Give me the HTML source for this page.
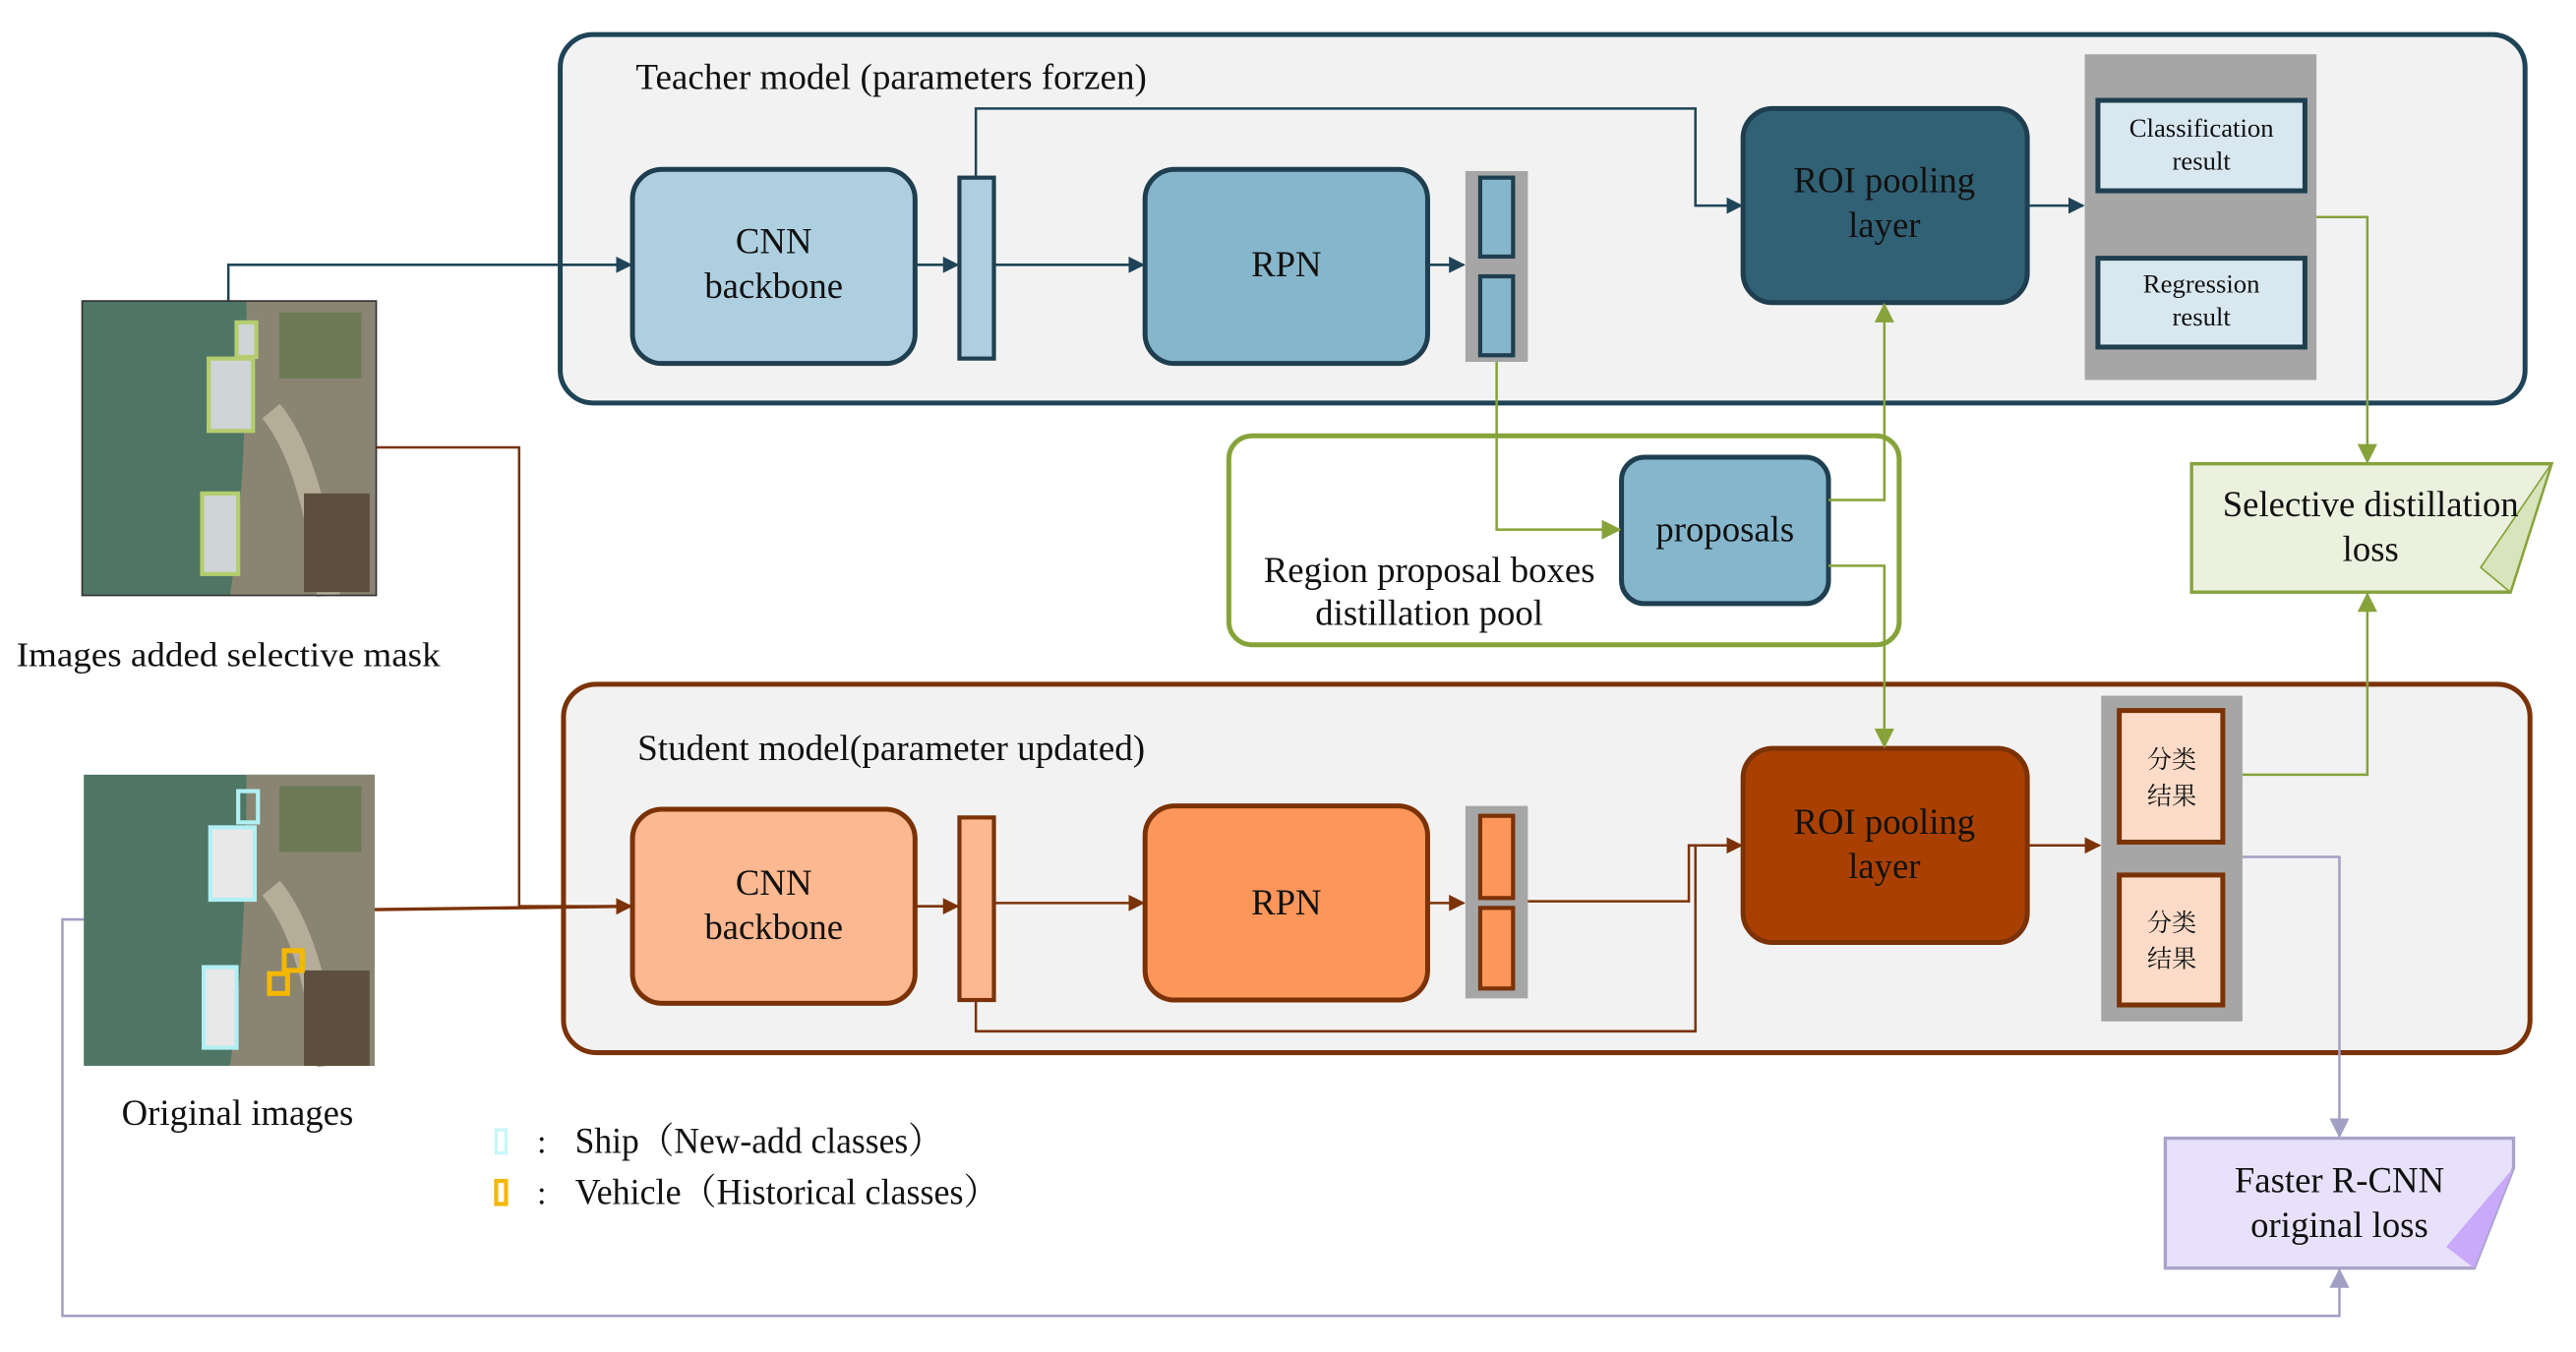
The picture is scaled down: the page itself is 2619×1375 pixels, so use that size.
<!DOCTYPE html>
<html><head><meta charset="utf-8"><style>
html,body{margin:0;padding:0;background:#fff;}
svg{display:block;}
text{font-family:"Liberation Serif","Noto Serif CJK SC",serif;fill:#111;}
</style></head><body>
<svg width="2619" height="1375" viewBox="0 0 1568 822" preserveAspectRatio="none" xmlns="http://www.w3.org/2000/svg">
<defs>
<marker id="at" markerWidth="10" markerHeight="10" refX="9" refY="5" orient="auto" markerUnits="userSpaceOnUse"><path d="M0,0 L10,5 L0,10 z" fill="#1f4457"/></marker>
<marker id="ab" markerWidth="10" markerHeight="10" refX="9" refY="5" orient="auto" markerUnits="userSpaceOnUse"><path d="M0,0 L10,5 L0,10 z" fill="#7b3206"/></marker>
<marker id="ag" markerWidth="12" markerHeight="12" refX="11" refY="6" orient="auto" markerUnits="userSpaceOnUse"><path d="M0,0 L12,6 L0,12 z" fill="#86a33a"/></marker>
<marker id="al" markerWidth="12" markerHeight="12" refX="11" refY="6" orient="auto" markerUnits="userSpaceOnUse"><path d="M0,0 L12,6 L0,12 z" fill="#a29fc4"/></marker>
</defs>

<!-- Teacher -->
<rect x="341" y="21" width="1196" height="224" rx="20" fill="#f2f2f2" stroke="#1f4457" stroke-width="3"/>
<text x="387" y="54" font-size="22" textLength="311" lengthAdjust="spacingAndGlyphs">Teacher model (parameters forzen)</text>
<rect x="385" y="103" width="172" height="118" rx="18" fill="#aecfdf" stroke="#1f3f50" stroke-width="3"/>
<text x="471" y="154" font-size="22" text-anchor="middle">CNN</text>
<text x="471" y="181" font-size="22" text-anchor="middle">backbone</text>
<rect x="584" y="108" width="21" height="110" fill="#aecfdf" stroke="#1f3f50" stroke-width="2.5"/>
<rect x="697" y="103" width="172" height="118" rx="18" fill="#86b6cc" stroke="#1f3f50" stroke-width="3"/>
<text x="783" y="168" font-size="22" text-anchor="middle">RPN</text>
<rect x="892" y="104" width="38" height="116" fill="#a6a6a6"/>
<rect x="901" y="108" width="20" height="48" fill="#86b6cc" stroke="#1f3f50" stroke-width="2.5"/>
<rect x="901" y="168" width="20" height="48" fill="#86b6cc" stroke="#1f3f50" stroke-width="2.5"/>
<rect x="1061" y="66" width="173" height="118" rx="18" fill="#316175" stroke="#1f3f50" stroke-width="3"/>
<text x="1147" y="117" font-size="22" text-anchor="middle">ROI pooling</text>
<text x="1147" y="144" font-size="22" text-anchor="middle">layer</text>
<rect x="1269" y="33" width="141" height="198" fill="#a6a6a6"/>
<rect x="1277" y="61" width="126" height="55" fill="#d9e8f0" stroke="#1f3f50" stroke-width="3"/>
<text x="1340" y="83" font-size="16" text-anchor="middle">Classification</text>
<text x="1340" y="103" font-size="16" text-anchor="middle">result</text>
<rect x="1277" y="157" width="126" height="54" fill="#d9e8f0" stroke="#1f3f50" stroke-width="3"/>
<text x="1340" y="178" font-size="16" text-anchor="middle">Regression</text>
<text x="1340" y="198" font-size="16" text-anchor="middle">result</text>
<g stroke="#1f4457" stroke-width="1.5" fill="none">
<path d="M139,183 V161 H384" marker-end="url(#at)"/>
<path d="M557,161 H583" marker-end="url(#at)"/>
<path d="M605,161 H696" marker-end="url(#at)"/>
<path d="M869,161 H891" marker-end="url(#at)"/>
<path d="M594,108 V66 H1032 V125 H1060" marker-end="url(#at)"/>
<path d="M1234,125 H1268" marker-end="url(#at)"/>
</g>

<!-- Pool -->
<rect x="748" y="265" width="408" height="127" rx="14" fill="#fff" stroke="#86a33a" stroke-width="3"/>
<rect x="987" y="278" width="126" height="89" rx="14" fill="#86b6cc" stroke="#1f3f50" stroke-width="3"/>
<text x="1050" y="329" font-size="22" text-anchor="middle">proposals</text>
<text x="870" y="354" font-size="22" text-anchor="middle">Region proposal boxes</text>
<text x="870" y="380" font-size="22" text-anchor="middle">distillation pool</text>

<!-- Selective loss -->
<path d="M1334,282 H1553 L1528,360 H1334 Z" fill="#ebf1de" stroke="#86a33a" stroke-width="2"/>
<path d="M1553,282 L1510,345 L1528,360 Z" fill="#d7e4bc" stroke="#86a33a" stroke-width="1"/>
<text x="1443" y="314" font-size="22" text-anchor="middle">Selective distillation</text>
<text x="1443" y="341" font-size="22" text-anchor="middle">loss</text>

<!-- Student -->
<rect x="343" y="416" width="1197" height="224" rx="20" fill="#f2f2f2" stroke="#7b3206" stroke-width="3"/>
<text x="388" y="462" font-size="22" textLength="309" lengthAdjust="spacingAndGlyphs">Student model(parameter updated)</text>
<rect x="385" y="492" width="172" height="118" rx="18" fill="#fcb891" stroke="#7b3206" stroke-width="3"/>
<text x="471" y="544" font-size="22" text-anchor="middle">CNN</text>
<text x="471" y="571" font-size="22" text-anchor="middle">backbone</text>
<rect x="584" y="497" width="21" height="111" fill="#fcb891" stroke="#7b3206" stroke-width="2.5"/>
<rect x="697" y="490" width="172" height="118" rx="18" fill="#fc965a" stroke="#7b3206" stroke-width="3"/>
<text x="783" y="556" font-size="22" text-anchor="middle">RPN</text>
<rect x="892" y="490" width="38" height="117" fill="#a6a6a6"/>
<rect x="901" y="496" width="20" height="50" fill="#fc965a" stroke="#7b3206" stroke-width="2.5"/>
<rect x="901" y="552" width="20" height="49" fill="#fc965a" stroke="#7b3206" stroke-width="2.5"/>
<rect x="1061" y="455" width="173" height="118" rx="18" fill="#a94002" stroke="#7b3206" stroke-width="3"/>
<text x="1147" y="507" font-size="22" text-anchor="middle">ROI pooling</text>
<text x="1147" y="534" font-size="22" text-anchor="middle">layer</text>
<rect x="1279" y="423" width="86" height="198" fill="#a6a6a6"/>
<rect x="1290" y="432" width="63" height="80" fill="#fcdcc8" stroke="#7b3206" stroke-width="3"/>
<text x="1322" y="467" font-size="15" text-anchor="middle">分类</text>
<text x="1322" y="489" font-size="15" text-anchor="middle">结果</text>
<rect x="1290" y="532" width="63" height="79" fill="#fcdcc8" stroke="#7b3206" stroke-width="3"/>
<text x="1322" y="566" font-size="15" text-anchor="middle">分类</text>
<text x="1322" y="588" font-size="15" text-anchor="middle">结果</text>
<g stroke="#7b3206" stroke-width="1.5" fill="none">
<path d="M229,272 H316 V551 H384" marker-end="url(#ab)"/>
<path d="M228,553 L384,551" stroke-width="2" marker-end="url(#ab)"/>
<path d="M557,551 H583" marker-end="url(#ab)"/>
<path d="M605,549 H696" marker-end="url(#ab)"/>
<path d="M869,549 H891" marker-end="url(#ab)"/>
<path d="M930,548 H1028 V514 H1060" marker-end="url(#ab)"/>
<path d="M594,608 V627 H1032 V514"/>
<path d="M1234,514 H1278" marker-end="url(#ab)"/>
</g>

<!-- Green connectors -->
<g stroke="#86a33a" stroke-width="1.5" fill="none">
<path d="M911,220 V322 H986" marker-end="url(#ag)"/>
<path d="M1113,304 H1147 V185" marker-end="url(#ag)"/>
<path d="M1113,344 H1147 V454" marker-end="url(#ag)"/>
<path d="M1410,132 H1441 V281" marker-end="url(#ag)"/>
<path d="M1365,471 H1441 V361" marker-end="url(#ag)"/>
</g>

<!-- Faster RCNN loss -->
<path d="M1318,692 H1530 V710 L1506,771 H1318 Z" fill="#e8e1fb" stroke="#a9a3c9" stroke-width="2"/>
<path d="M1530,710 L1489,758 L1506,771 Z" fill="#c9a9f9"/>
<text x="1424" y="725" font-size="22" text-anchor="middle">Faster R-CNN</text>
<text x="1424" y="752" font-size="22" text-anchor="middle">original loss</text>
<g stroke="#a29fc4" stroke-width="1.5" fill="none">
<path d="M1365,521 H1424 V691" marker-end="url(#al)"/>
<path d="M51,559 H38 V800 H1424 V772" marker-end="url(#al)"/>
</g>

<!-- Image 1 -->
<g>
<rect x="50" y="183" width="179" height="179" fill="#4f7565"/>
<path d="M150,183 H229 V362 H140 Q150,300 150,183Z" fill="#8a8573"/>
<path d="M165,250 Q190,280 200,362" stroke="#b5ad98" stroke-width="14" fill="none"/>
<rect x="185" y="300" width="40" height="60" fill="#5d4f3e"/>
<rect x="170" y="190" width="50" height="40" fill="#6c7a55"/>
<rect x="50" y="183" width="179" height="179" fill="none" stroke="#333" stroke-width="1"/>
<rect x="144" y="196" width="12" height="21" fill="#cfd4d6" stroke="#b4cd6e" stroke-width="2.5"/>
<rect x="127" y="218" width="27" height="44" fill="#cfd4d6" stroke="#b4cd6e" stroke-width="2.5"/>
<rect x="123" y="300" width="22" height="49" fill="#cfd4d6" stroke="#b4cd6e" stroke-width="2.5"/>
</g>
<text x="10" y="405" font-size="21" textLength="258" lengthAdjust="spacingAndGlyphs">Images added selective mask</text>

<!-- Image 2 -->
<g>
<rect x="51" y="471" width="177" height="177" fill="#4f7565"/>
<path d="M150,471 H228 V648 H140 Q150,580 150,471Z" fill="#8a8573"/>
<path d="M165,540 Q190,570 200,648" stroke="#b5ad98" stroke-width="14" fill="none"/>
<rect x="185" y="590" width="40" height="58" fill="#5d4f3e"/>
<rect x="170" y="478" width="50" height="40" fill="#6c7a55"/>
<rect x="145" y="481" width="12" height="19" fill="none" stroke="#b0f0f4" stroke-width="2.5"/>
<rect x="128" y="503" width="27" height="44" fill="#e8e8e8" stroke="#b0f0f4" stroke-width="2.5"/>
<rect x="124" y="588" width="20" height="49" fill="#e8e8e8" stroke="#b0f0f4" stroke-width="2.5"/>
<rect x="173" y="578" width="11" height="12" fill="none" stroke="#f5b800" stroke-width="3"/>
<rect x="164" y="592" width="11" height="12" fill="none" stroke="#f5b800" stroke-width="3"/>
</g>
<text x="74" y="684" font-size="22">Original images</text>

<!-- Legend -->
<rect x="302" y="687" width="6" height="14" fill="none" stroke="#c8f6fa" stroke-width="2"/>
<text x="327" y="701" font-size="20">:</text>
<text x="350" y="701" font-size="22" textLength="224" lengthAdjust="spacingAndGlyphs">Ship（New-add classes）</text>
<rect x="302" y="718" width="6" height="14" fill="none" stroke="#f5b800" stroke-width="2.5"/>
<text x="327" y="732" font-size="20">:</text>
<text x="350" y="732" font-size="22" textLength="258" lengthAdjust="spacingAndGlyphs">Vehicle（Historical classes）</text>
</svg>
</body></html>
